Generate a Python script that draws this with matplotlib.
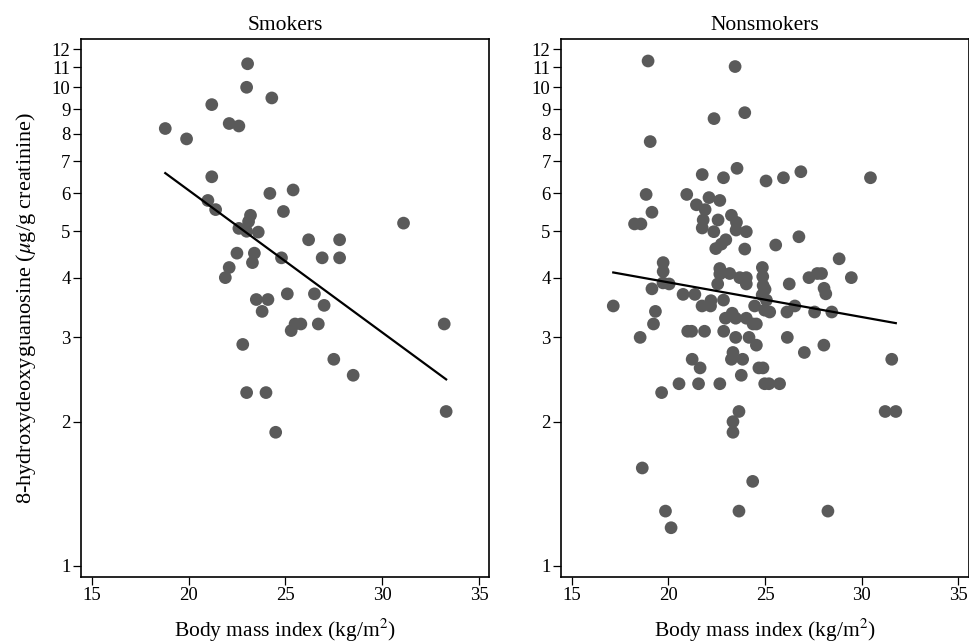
import numpy as np
import matplotlib
matplotlib.use("Agg")
from matplotlib import pyplot as plt
from matplotlib.ticker import FixedLocator, FixedFormatter, NullLocator

plt.rcParams['font.family'] = ['Liberation Serif', 'DejaVu Serif']
plt.rcParams['mathtext.fontset'] = 'stix'

# smokers: BMI vs 8-OHdG
smk_bmi = [18.8, 19.9, 21.2, 22.1, 22.6, 23.05, 23.0, 24.3, 21.2, 21.0, 21.4,
           24.2, 25.4, 24.9, 23.2, 22.6, 23.0, 23.6, 23.1, 26.2, 27.8, 26.9,
           27.8, 24.8, 22.5, 23.4, 23.3, 22.1, 21.9, 31.1, 23.5, 24.1, 25.1,
           26.5, 27.0, 23.8, 25.5, 25.8, 25.3, 26.7, 33.2, 22.8, 27.5, 28.5,
           23.0, 24.0, 24.5, 33.3]
smk_ohdg = [8.2, 7.8, 9.2, 8.4, 8.3, 11.2, 10.0, 9.5, 6.5, 5.8, 5.55,
            6.0, 6.1, 5.5, 5.4, 5.07, 5.0, 4.98, 5.24, 4.8, 4.8, 4.4,
            4.4, 4.4, 4.5, 4.5, 4.3, 4.2, 4.0, 5.2, 3.6, 3.6, 3.7,
            3.7, 3.5, 3.4, 3.2, 3.2, 3.1, 3.2, 3.2, 2.9, 2.7, 2.5,
            2.3, 2.3, 1.9, 2.1]

# nonsmokers
non_bmi = [18.95, 23.45, 22.36, 23.95, 19.06, 21.75, 22.85, 23.55, 25.05, 25.95,
           26.85, 30.45, 18.85, 20.95, 19.15, 21.45, 22.1, 22.66, 21.9,
           18.25, 18.58, 21.8, 21.75, 22.35, 22.57, 23.26, 23.52, 23.5, 24.03,
           26.75, 25.55, 22.97, 22.74, 22.45, 23.95, 28.83, 19.73,
           19.73, 19.72, 20.04, 19.15, 22.66, 22.66, 22.55, 23.17, 23.69, 24.03,
           24.03, 24.86, 24.88, 24.9, 25.0, 24.85, 26.25, 27.27, 27.7, 27.92,
           28.05, 28.14, 29.46, 20.76, 21.37,
           17.15, 19.33, 19.23, 18.54, 21.74, 22.18, 22.2, 22.85, 21.0, 21.2,
           21.87, 22.86, 22.95, 23.3, 23.48, 24.03, 24.38, 24.55, 24.46, 24.98,
           25.07, 25.24, 26.13, 26.54, 27.56, 28.45, 23.48, 24.17, 26.15,
           24.55, 28.04, 27.03, 23.34, 23.26, 23.84, 21.23, 21.64, 23.77, 24.68,
           24.89, 20.55, 21.56, 22.66, 24.98, 25.2, 25.75, 19.65, 31.55, 23.65,
           23.34, 23.34, 31.21, 31.76, 18.65, 24.36, 19.85, 23.65, 28.25, 20.14]
non_ohdg = [11.35, 11.05, 8.6, 8.85, 7.7, 6.57, 6.47, 6.77, 6.37, 6.47,
            6.66, 6.47, 5.97, 5.97, 5.48, 5.68, 5.88, 5.8, 5.55,
            5.18, 5.18, 5.28, 5.08, 4.99, 5.28, 5.4, 5.22, 5.03, 4.99,
            4.87, 4.68, 4.8, 4.7, 4.6, 4.59, 4.38, 4.3,
            4.12, 3.9, 3.88, 3.79, 4.18, 4.07, 3.88, 4.08, 4.0, 4.0,
            3.88, 4.2, 4.02, 3.85, 3.78, 3.68, 3.88, 4.0, 4.08, 4.08,
            3.8, 3.7, 4.0, 3.69, 3.69,
            3.49, 3.4, 3.2, 3.0, 3.49, 3.49, 3.58, 3.59, 3.09, 3.09,
            3.09, 3.09, 3.29, 3.37, 3.29, 3.29, 3.2, 3.2, 3.49, 3.42,
            3.59, 3.39, 3.39, 3.49, 3.39, 3.39, 3.0, 3.0, 3.0,
            2.89, 2.89, 2.79, 2.79, 2.7, 2.7, 2.7, 2.59, 2.5, 2.59,
            2.59, 2.4, 2.4, 2.4, 2.4, 2.4, 2.4, 2.3, 2.7, 2.1,
            2.0, 1.9, 2.1, 2.1, 1.6, 1.5, 1.3, 1.3, 1.3, 1.2]

# fitted lines: log10(y) = a + b * bmi
smk_fit = (1.3797, -0.02974)
non_fit = (0.7372, -0.00725)

titles = ['Smokers', 'Nonsmokers']
ytick_vals = [1, 2, 3, 4, 5, 6, 7, 8, 9, 10, 11, 12]
xtick_vals = [15, 20, 25, 30, 35]

fig = plt.figure(figsize=(9.69, 6.44), dpi=100)
ax1 = fig.add_axes([0.0836, 0.1045, 0.4214, 0.8345])
ax2 = fig.add_axes([0.579, 0.1045, 0.4207, 0.8345])

panels = [(ax1, smk_bmi, smk_ohdg, smk_fit), (ax2, non_bmi, non_ohdg, non_fit)]
for i, (ax, bx, oy, fit) in enumerate(panels):
    ax.scatter(bx, oy, s=84, color='#5a5a5a', edgecolors='none', zorder=2)
    xs = np.linspace(min(bx), max(bx), 50)
    ax.plot(xs, 10 ** (fit[0] + fit[1] * xs), color='black', lw=1.6, zorder=3)
    ax.set_yscale('log')
    ax.set_xlim(14.45, 35.53)
    ax.set_ylim(0.948, 12.6)
    ax.yaxis.set_major_locator(FixedLocator(ytick_vals))
    ax.yaxis.set_major_formatter(FixedFormatter([str(v) for v in ytick_vals]))
    ax.yaxis.set_minor_locator(NullLocator())
    ax.set_xticks(xtick_vals)
    ax.tick_params(axis='both', which='major', length=5.5, width=0.9,
                   labelsize=13.5, direction='out', pad=2)
    for sp in ax.spines.values():
        sp.set_linewidth(1.2)
    ax.set_title(titles[i], fontsize=15.5, pad=7)
    ax.set_xlabel('Body mass index (kg/m$^2$)', fontsize=15.5, labelpad=9)

ax1.set_ylabel(r'8-hydroxydeoxyguanosine ($\mu$g/g creatinine)', fontsize=16, labelpad=10)

fig.savefig('out.png', dpi=100)
